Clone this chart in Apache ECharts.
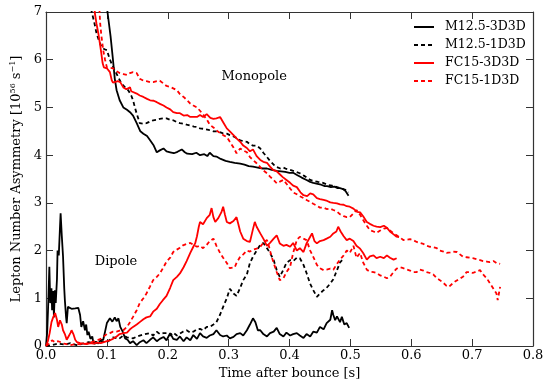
<!DOCTYPE html>
<html>
<head>
<meta charset="utf-8">
<script src="https://cdn.jsdelivr.net/npm/echarts@6/dist/echarts.min.js"></script>
<style>html,body{margin:0;padding:0;background:#fff}#c{width:555px;height:385px}</style>
</head>
<body>
<div id="c"></div>
<script>
// ---------- DATA ----------
const seriesNames = ['M12.5-3D3D', 'M12.5-1D3D', 'FC15-3D3D', 'FC15-1D3D'];
const xTickLabels = ['0.0','0.1','0.2','0.3','0.4','0.5','0.6','0.7','0.8'];
const yTickLabels = ['0','1','2','3','4','5','6','7'];
const annotations = [['Monopole', 0.342, 5.64], ['Dipole', 0.115, 1.76]];

// Monopole
const m3Mono = [[0.097,7.6],[0.101,7.0],[0.106,6.5],[0.110,6.0],[0.113,5.6],[0.116,5.36],[0.121,5.15],[0.127,5.0],[0.133,4.95],[0.138,4.9],[0.143,4.83],[0.149,4.67],[0.155,4.5],[0.160,4.45],[0.166,4.4],[0.171,4.31],[0.177,4.2],[0.182,4.06],[0.187,4.1],[0.193,4.14],[0.198,4.08],[0.204,4.06],[0.210,4.04],[0.216,4.07],[0.223,4.12],[0.228,4.06],[0.232,4.03],[0.240,4.02],[0.247,4.05],[0.253,4.0],[0.260,4.02],[0.265,3.98],[0.269,4.05],[0.275,3.98],[0.280,3.97],[0.287,3.92],[0.295,3.88],[0.302,3.86],[0.310,3.84],[0.319,3.82],[0.326,3.8],[0.333,3.77],[0.340,3.76],[0.348,3.74],[0.356,3.72],[0.363,3.72],[0.371,3.69],[0.379,3.67],[0.386,3.66],[0.393,3.65],[0.400,3.63],[0.406,3.63],[0.413,3.58],[0.420,3.53],[0.428,3.48],[0.434,3.44],[0.439,3.42],[0.446,3.4],[0.452,3.38],[0.458,3.35],[0.462,3.35],[0.468,3.33],[0.474,3.34],[0.479,3.31],[0.483,3.31],[0.488,3.29],[0.492,3.25],[0.497,3.15]];
const m1Mono = [[0.070,7.8],[0.075,7.0],[0.079,6.8],[0.083,6.55],[0.087,6.4],[0.091,6.27],[0.096,6.22],[0.100,6.2],[0.105,6.0],[0.109,5.88],[0.113,5.78],[0.118,5.65],[0.124,5.5],[0.130,5.42],[0.135,5.36],[0.140,5.25],[0.143,5.15],[0.146,5.0],[0.149,4.87],[0.152,4.75],[0.154,4.67],[0.160,4.66],[0.165,4.67],[0.170,4.7],[0.176,4.73],[0.182,4.74],[0.187,4.76],[0.192,4.77],[0.198,4.77],[0.204,4.74],[0.209,4.73],[0.215,4.69],[0.220,4.67],[0.226,4.66],[0.231,4.64],[0.237,4.62],[0.243,4.6],[0.248,4.59],[0.253,4.56],[0.260,4.55],[0.267,4.53],[0.275,4.5],[0.282,4.5],[0.290,4.46],[0.297,4.45],[0.302,4.42],[0.308,4.39],[0.313,4.36],[0.319,4.31],[0.325,4.29],[0.330,4.28],[0.335,4.23],[0.340,4.2],[0.346,4.2],[0.352,4.14],[0.357,4.05],[0.363,3.96],[0.368,3.88],[0.374,3.8],[0.379,3.75],[0.385,3.72],[0.390,3.74],[0.395,3.71],[0.401,3.69],[0.408,3.66],[0.417,3.62],[0.425,3.56],[0.434,3.48],[0.440,3.46],[0.447,3.44],[0.455,3.42],[0.462,3.38],[0.470,3.36],[0.478,3.33],[0.485,3.3],[0.492,3.27],[0.497,3.22]];
const f3Mono = [[0.076,7.8],[0.080,7.0],[0.083,6.75],[0.086,6.55],[0.089,6.3],[0.091,6.12],[0.093,5.93],[0.095,5.84],[0.100,5.82],[0.103,5.82],[0.105,5.74],[0.108,5.57],[0.110,5.52],[0.113,5.5],[0.118,5.55],[0.122,5.53],[0.127,5.42],[0.132,5.38],[0.135,5.40],[0.138,5.42],[0.140,5.34],[0.143,5.33],[0.149,5.29],[0.154,5.25],[0.160,5.22],[0.166,5.18],[0.171,5.15],[0.177,5.14],[0.182,5.11],[0.188,5.07],[0.193,5.04],[0.198,5.0],[0.204,4.96],[0.209,4.9],[0.215,4.88],[0.220,4.88],[0.226,4.83],[0.232,4.84],[0.237,4.8],[0.242,4.8],[0.248,4.8],[0.253,4.84],[0.258,4.8],[0.264,4.86],[0.267,4.88],[0.270,4.78],[0.275,4.76],[0.280,4.77],[0.286,4.8],[0.289,4.78],[0.292,4.67],[0.297,4.56],[0.302,4.5],[0.308,4.42],[0.313,4.35],[0.319,4.28],[0.324,4.2],[0.330,4.15],[0.335,4.08],[0.340,4.12],[0.346,3.98],[0.352,3.9],[0.357,3.86],[0.363,3.84],[0.368,3.76],[0.373,3.69],[0.379,3.66],[0.384,3.6],[0.389,3.54],[0.395,3.48],[0.401,3.42],[0.406,3.36],[0.412,3.33],[0.418,3.22],[0.423,3.16],[0.429,3.14],[0.434,3.2],[0.439,3.18],[0.445,3.1],[0.450,3.08],[0.456,3.06],[0.462,3.04],[0.467,3.01],[0.472,3.0],[0.478,2.99],[0.483,2.97],[0.489,2.96],[0.494,2.93],[0.499,2.92],[0.505,2.88],[0.511,2.81],[0.516,2.8],[0.521,2.72],[0.527,2.6],[0.532,2.56],[0.538,2.52],[0.543,2.5],[0.549,2.49],[0.555,2.52],[0.560,2.48],[0.565,2.4],[0.571,2.34],[0.576,2.29],[0.580,2.28]];
const f1Mono = [[0.084,7.8],[0.088,7.0],[0.089,6.76],[0.091,6.5],[0.094,6.2],[0.097,6.0],[0.100,5.84],[0.105,5.83],[0.110,5.82],[0.116,5.76],[0.121,5.72],[0.127,5.7],[0.133,5.68],[0.138,5.72],[0.143,5.74],[0.149,5.72],[0.154,5.6],[0.160,5.56],[0.165,5.55],[0.171,5.53],[0.176,5.53],[0.182,5.55],[0.187,5.56],[0.193,5.5],[0.198,5.45],[0.204,5.43],[0.209,5.4],[0.215,5.36],[0.220,5.28],[0.226,5.22],[0.232,5.15],[0.237,5.08],[0.242,5.04],[0.248,5.0],[0.253,4.93],[0.258,4.85],[0.264,4.75],[0.269,4.64],[0.275,4.58],[0.280,4.52],[0.286,4.46],[0.291,4.42],[0.297,4.38],[0.302,4.28],[0.308,4.16],[0.313,4.04],[0.319,4.14],[0.324,4.1],[0.330,4.06],[0.335,3.96],[0.340,3.9],[0.346,3.83],[0.352,3.75],[0.357,3.68],[0.363,3.62],[0.368,3.55],[0.374,3.48],[0.379,3.41],[0.385,3.45],[0.390,3.48],[0.395,3.4],[0.401,3.3],[0.406,3.22],[0.412,3.18],[0.417,3.14],[0.423,3.1],[0.428,3.06],[0.434,3.02],[0.439,2.98],[0.445,2.94],[0.450,2.9],[0.456,2.9],[0.461,2.87],[0.467,2.88],[0.472,2.85],[0.478,2.82],[0.483,2.76],[0.489,2.72],[0.494,2.7],[0.499,2.7],[0.505,2.78],[0.510,2.85],[0.516,2.75],[0.521,2.64],[0.527,2.52],[0.532,2.43],[0.538,2.4],[0.543,2.37],[0.549,2.42],[0.555,2.46],[0.560,2.47],[0.565,2.42],[0.571,2.36],[0.576,2.32],[0.582,2.27],[0.587,2.22],[0.593,2.23],[0.598,2.24],[0.603,2.22],[0.609,2.18],[0.614,2.16],[0.620,2.14],[0.625,2.1],[0.631,2.08],[0.636,2.07],[0.642,2.05],[0.647,2.0],[0.653,1.98],[0.658,1.95],[0.664,1.96],[0.669,1.98],[0.675,1.97],[0.680,1.92],[0.685,1.87],[0.691,1.86],[0.696,1.85],[0.701,1.84],[0.707,1.82],[0.713,1.8],[0.718,1.78],[0.724,1.77],[0.729,1.76],[0.735,1.78],[0.740,1.74],[0.746,1.72]];

// Dipole
const m3Dip = [[0.0,0.0],[0.002,0.3],[0.004,1.0],[0.0055,1.66],[0.007,0.9],[0.009,1.21],[0.010,0.75],[0.012,1.15],[0.013,0.6],[0.0145,1.17],[0.016,0.9],[0.018,1.4],[0.019,2.0],[0.021,1.9],[0.023,2.5],[0.024,2.78],[0.026,2.3],[0.028,1.87],[0.030,1.2],[0.031,0.96],[0.033,0.6],[0.034,0.48],[0.036,0.82],[0.039,0.85],[0.042,0.78],[0.045,0.82],[0.048,0.79],[0.050,0.75],[0.053,0.8],[0.056,0.65],[0.058,0.4],[0.061,0.52],[0.064,0.33],[0.066,0.45],[0.068,0.23],[0.070,0.3],[0.073,0.15],[0.076,0.2],[0.078,0.06],[0.082,0.09],[0.086,0.05],[0.090,0.13],[0.094,0.13],[0.097,0.3],[0.100,0.48],[0.103,0.45],[0.105,0.58],[0.109,0.51],[0.113,0.6],[0.116,0.52],[0.119,0.58],[0.122,0.4],[0.126,0.3],[0.130,0.16],[0.134,0.13],[0.138,0.06],[0.143,0.1],[0.149,0.02],[0.154,0.08],[0.160,0.12],[0.165,0.06],[0.171,0.13],[0.176,0.18],[0.182,0.1],[0.187,0.15],[0.193,0.19],[0.198,0.12],[0.204,0.27],[0.209,0.15],[0.215,0.13],[0.220,0.2],[0.226,0.1],[0.231,0.18],[0.237,0.12],[0.242,0.23],[0.248,0.15],[0.253,0.27],[0.258,0.2],[0.264,0.17],[0.269,0.22],[0.275,0.25],[0.280,0.33],[0.286,0.23],[0.291,0.2],[0.297,0.22],[0.302,0.16],[0.308,0.19],[0.313,0.25],[0.319,0.27],[0.324,0.22],[0.330,0.33],[0.335,0.45],[0.340,0.58],[0.344,0.5],[0.348,0.33],[0.352,0.33],[0.357,0.25],[0.363,0.2],[0.368,0.27],[0.374,0.3],[0.379,0.38],[0.384,0.25],[0.390,0.2],[0.395,0.28],[0.401,0.22],[0.406,0.25],[0.412,0.27],[0.417,0.22],[0.423,0.17],[0.428,0.25],[0.434,0.2],[0.439,0.3],[0.445,0.28],[0.450,0.4],[0.456,0.35],[0.461,0.48],[0.467,0.55],[0.470,0.75],[0.472,0.65],[0.475,0.54],[0.478,0.62],[0.483,0.5],[0.486,0.61],[0.490,0.45],[0.494,0.48],[0.498,0.38]];
const m1Dip = [[0.0,0.0],[0.01,0.02],[0.02,0.05],[0.03,0.03],[0.04,0.06],[0.05,0.02],[0.06,0.05],[0.07,0.08],[0.08,0.05],[0.09,0.1],[0.1,0.08],[0.105,0.13],[0.11,0.18],[0.12,0.15],[0.127,0.22],[0.133,0.18],[0.143,0.16],[0.15,0.2],[0.16,0.24],[0.171,0.27],[0.176,0.22],[0.182,0.3],[0.187,0.25],[0.193,0.27],[0.198,0.27],[0.204,0.22],[0.209,0.28],[0.215,0.22],[0.220,0.26],[0.225,0.3],[0.231,0.33],[0.237,0.28],[0.242,0.3],[0.248,0.35],[0.253,0.36],[0.258,0.33],[0.264,0.4],[0.269,0.4],[0.275,0.45],[0.280,0.5],[0.286,0.66],[0.291,0.82],[0.297,1.0],[0.302,1.2],[0.305,1.15],[0.308,1.1],[0.313,1.05],[0.319,1.22],[0.324,1.38],[0.330,1.5],[0.335,1.74],[0.340,1.87],[0.346,2.0],[0.352,2.12],[0.357,2.16],[0.363,2.05],[0.368,1.95],[0.374,1.8],[0.379,1.59],[0.384,1.45],[0.390,1.6],[0.395,1.74],[0.401,1.8],[0.406,1.78],[0.412,1.85],[0.417,1.84],[0.423,1.7],[0.428,1.53],[0.434,1.3],[0.439,1.17],[0.445,1.03],[0.450,1.1],[0.456,1.17],[0.461,1.22],[0.467,1.31],[0.472,1.4],[0.478,1.59],[0.483,1.75],[0.487,1.81]];
const f3Dip = [[0.0,0.0],[0.003,0.1],[0.006,0.27],[0.009,0.5],[0.012,0.61],[0.015,0.69],[0.018,0.55],[0.020,0.4],[0.023,0.54],[0.026,0.45],[0.028,0.33],[0.031,0.25],[0.034,0.13],[0.037,0.2],[0.040,0.27],[0.042,0.33],[0.045,0.25],[0.048,0.13],[0.051,0.08],[0.056,0.06],[0.062,0.05],[0.067,0.04],[0.073,0.06],[0.078,0.05],[0.084,0.07],[0.090,0.06],[0.095,0.08],[0.100,0.1],[0.105,0.12],[0.110,0.15],[0.116,0.2],[0.121,0.25],[0.127,0.27],[0.133,0.28],[0.138,0.35],[0.143,0.4],[0.149,0.45],[0.154,0.5],[0.160,0.56],[0.165,0.6],[0.171,0.62],[0.176,0.72],[0.182,0.78],[0.187,0.88],[0.192,0.96],[0.198,1.05],[0.204,1.22],[0.209,1.38],[0.215,1.45],[0.220,1.52],[0.226,1.65],[0.231,1.78],[0.237,1.95],[0.242,2.08],[0.245,2.15],[0.248,2.3],[0.251,2.5],[0.253,2.6],[0.258,2.55],[0.264,2.68],[0.269,2.75],[0.272,2.89],[0.275,2.7],[0.278,2.6],[0.283,2.68],[0.288,2.8],[0.291,2.92],[0.294,2.75],[0.297,2.6],[0.302,2.57],[0.308,2.62],[0.313,2.7],[0.316,2.55],[0.319,2.4],[0.324,2.25],[0.330,2.2],[0.335,2.18],[0.340,2.45],[0.343,2.6],[0.346,2.5],[0.352,2.36],[0.357,2.25],[0.363,2.1],[0.368,2.16],[0.374,2.25],[0.379,2.32],[0.384,2.15],[0.390,2.1],[0.395,2.12],[0.401,2.08],[0.406,2.16],[0.412,2.0],[0.417,2.05],[0.423,1.97],[0.428,2.15],[0.434,2.29],[0.437,2.36],[0.441,2.2],[0.445,2.15],[0.450,2.2],[0.456,2.22],[0.461,2.25],[0.467,2.29],[0.472,2.36],[0.477,2.4],[0.480,2.5],[0.484,2.4],[0.489,2.3],[0.494,2.22],[0.499,2.25],[0.505,2.2],[0.510,2.1],[0.516,2.04],[0.521,1.95],[0.527,1.81],[0.532,1.88],[0.538,1.9],[0.543,1.84],[0.549,1.87],[0.555,1.84],[0.560,1.9],[0.565,1.85],[0.571,1.81],[0.576,1.84]];
const f1Dip = [[0.0,0.0],[0.005,0.05],[0.01,0.12],[0.015,0.08],[0.02,0.1],[0.03,0.05],[0.04,0.02],[0.05,0.04],[0.06,0.03],[0.07,0.06],[0.08,0.1],[0.09,0.15],[0.1,0.25],[0.105,0.27],[0.110,0.3],[0.116,0.3],[0.121,0.32],[0.127,0.33],[0.133,0.4],[0.138,0.5],[0.143,0.61],[0.149,0.75],[0.154,0.9],[0.160,1.0],[0.165,1.1],[0.171,1.25],[0.176,1.38],[0.182,1.45],[0.187,1.52],[0.193,1.65],[0.198,1.77],[0.204,1.85],[0.209,1.97],[0.215,2.02],[0.220,2.06],[0.225,2.11],[0.231,2.14],[0.237,2.16],[0.242,2.12],[0.248,2.08],[0.253,2.1],[0.258,2.05],[0.264,2.12],[0.269,2.2],[0.275,2.25],[0.280,2.1],[0.286,1.95],[0.291,1.85],[0.297,1.74],[0.302,1.63],[0.305,1.59],[0.310,1.65],[0.313,1.74],[0.319,1.87],[0.324,1.92],[0.330,2.0],[0.335,1.98],[0.340,2.02],[0.346,2.04],[0.352,2.08],[0.357,2.16],[0.363,2.22],[0.366,2.1],[0.370,1.9],[0.374,1.74],[0.379,1.55],[0.384,1.38],[0.387,1.35],[0.390,1.42],[0.395,1.55],[0.401,1.66],[0.406,1.95],[0.412,2.22],[0.417,2.29],[0.423,2.25],[0.428,2.22],[0.434,2.0],[0.439,1.87],[0.445,1.7],[0.450,1.63],[0.456,1.59],[0.461,1.6],[0.467,1.62],[0.472,1.6],[0.478,1.72],[0.483,1.81],[0.489,1.9],[0.494,2.0],[0.499,1.95],[0.505,2.1],[0.510,1.85],[0.516,1.95],[0.521,1.75],[0.527,1.6],[0.532,1.56],[0.538,1.55],[0.543,1.53],[0.549,1.48],[0.555,1.45],[0.560,1.42],[0.565,1.45],[0.571,1.55],[0.576,1.62],[0.582,1.65],[0.587,1.63],[0.593,1.6],[0.598,1.58],[0.603,1.55],[0.609,1.55],[0.614,1.6],[0.620,1.58],[0.625,1.55],[0.631,1.53],[0.636,1.5],[0.642,1.42],[0.647,1.38],[0.653,1.32],[0.658,1.26],[0.662,1.24],[0.667,1.3],[0.672,1.35],[0.678,1.4],[0.685,1.45],[0.691,1.55],[0.696,1.55],[0.701,1.53],[0.707,1.56],[0.713,1.59],[0.718,1.5],[0.724,1.42],[0.729,1.32],[0.735,1.2],[0.740,1.1],[0.742,0.96],[0.744,1.1],[0.746,1.24]];

// ---------- CHART ----------
const FONT = 'DejaVu Serif';
const AX = '#333';
const styles = [
  {color:'#000000', type:'solid'},
  {color:'#000000', type:[4,3]},
  {color:'#ff0000', type:'solid'},
  {color:'#ff0000', type:[4,3]}
];
const dataSets = [[m3Mono, m3Dip],[m1Mono, m1Dip],[f3Mono, f3Dip],[f1Mono, f1Dip]];

const series = [];
dataSets.forEach((pair, i) => {
  pair.forEach(d => {
    series.push({
      name: seriesNames[i], type: 'line', data: d, symbol: 'none', showSymbol: false,
      clip: true, animation: false, smooth: false,
      lineStyle: {color: styles[i].color, width: 1.8, type: styles[i].type},
      itemStyle: {color: styles[i].color},
      emphasis: {disabled: true}
    });
  });
});

const axisCommon = {
  axisLine: {show: true, onZero: false, lineStyle: {color: AX, width: 1.2}},
  axisTick: {show: true, inside: true, length: 7, lineStyle: {color: AX, width: 1}},
  splitLine: {show: false}
};

const chart = echarts.init(document.getElementById('c'), null, {renderer: 'canvas'});
chart.setOption({
  animation: false,
  backgroundColor: '#fff',
  grid: {left: 46, right: 22, top: 12, bottom: 39, containLabel: false},
  legend: {
    orient: 'vertical', left: 408, top: 15,
    itemWidth: 20, itemHeight: 14, itemGap: 4,
    data: seriesNames,
    itemStyle: {opacity: 0},
    textStyle: {fontFamily: FONT, fontSize: 12.5, color: '#000', padding: [0,0,0,6], lineHeight: 14},
    selectedMode: false
  },
  xAxis: [
    Object.assign({}, axisCommon, {
      type: 'value', min: 0, max: 0.8, interval: 0.1, position: 'bottom',
      axisLabel: {fontFamily: FONT, fontSize: 13, color: '#000', margin: 3,
        formatter: v => xTickLabels[Math.round(v * 10)]},
      name: 'Time after bounce [s]', nameLocation: 'middle', nameGap: 19,
      nameTextStyle: {fontFamily: FONT, fontSize: 13, color: '#000'}
    }),
    Object.assign({}, axisCommon, {
      type: 'value', min: 0, max: 0.8, interval: 0.1, position: 'top',
      axisLabel: {show: false}
    })
  ],
  yAxis: [
    Object.assign({}, axisCommon, {
      type: 'value', min: 0, max: 7, interval: 1, position: 'left',
      axisLabel: {fontFamily: FONT, fontSize: 13, color: '#000', margin: 4,
        formatter: v => yTickLabels[Math.round(v)]},
      name: 'Lepton Number Asymmetry [10{sup|56} s{sup|−1}]',
      nameLocation: 'middle', nameGap: 21, nameRotate: 90,
      nameTextStyle: {fontFamily: FONT, fontSize: 13, color: '#000',
        rich: {sup: {fontFamily: FONT, fontSize: 8, color: '#000', verticalAlign: 'top', lineHeight: 14}}}
    }),
    Object.assign({}, axisCommon, {
      type: 'value', min: 0, max: 7, interval: 1, position: 'right',
      axisLabel: {show: false}
    })
  ],
  series: series
});

const g = annotations.map(a => {
  const p = chart.convertToPixel({xAxisIndex: 0, yAxisIndex: 0}, [a[1], a[2]]);
  return {type: 'text', x: p[0], y: p[1], z: 100,
    style: {text: a[0], fontFamily: FONT, fontSize: 13, fill: '#000', align: 'center', verticalAlign: 'middle'}};
});
chart.setOption({graphic: g});
</script>
</body>
</html>
